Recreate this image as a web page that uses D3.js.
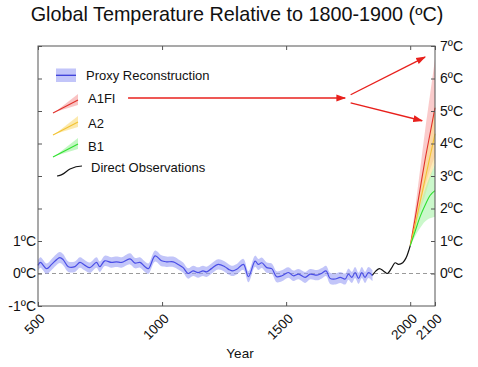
<!DOCTYPE html>
<html><head><meta charset="utf-8">
<script src="https://cdn.jsdelivr.net/npm/d3@7"></script>
<style>body{margin:0;background:#fff}svg{display:block}text{font-family:"Liberation Sans",Arial,sans-serif}</style>
</head><body><svg id="c" width="478" height="367"></svg>
<script>
// ---- data ----
const proxyYears = [500,510,535,555,588,602,622,649,669,689,709,736,749,769,796,816,837,871,891,911,931,945,972,998,1018,1045,1065,1085,1105,1125,1145,1165,1179,1199,1226,1253,1270,1285,1301,1328,1348,1375,1388,1402,1422,1442,1462,1483,1509,1529,1550,1577,1597,1624,1644,1661,1677,1698,1718,1738,1751,1765,1778,1792,1805,1818,1832,1848];
const proxyTemp = [0.25,0.34,0.15,0.28,0.49,0.42,0.21,0.21,0.34,0.25,0.18,0.34,0.21,0.39,0.34,0.36,0.34,0.45,0.32,0.34,0.21,0.15,0.54,0.39,0.36,0.36,0.28,0.18,0.0,0.08,0.03,0.08,0.05,0.15,0.28,0.21,0.12,0.08,0.13,0.28,-0.1,0.38,0.28,0.33,0.18,0.15,-0.1,-0.07,0.03,-0.07,-0.02,-0.12,-0.02,-0.05,0.01,0.08,-0.15,-0.17,-0.12,-0.17,-0.02,-0.12,0.03,-0.15,0.03,-0.12,0.03,-0.07];
const proxyErr = [0.16,0.16,0.16,0.17,0.17,0.17,0.16,0.16,0.16,0.16,0.16,0.16,0.16,0.16,0.16,0.16,0.16,0.17,0.16,0.16,0.16,0.16,0.17,0.17,0.16,0.16,0.16,0.16,0.16,0.16,0.16,0.16,0.16,0.16,0.16,0.16,0.16,0.16,0.16,0.17,0.17,0.17,0.17,0.16,0.16,0.16,0.17,0.17,0.16,0.16,0.16,0.17,0.16,0.16,0.16,0.16,0.17,0.17,0.17,0.17,0.17,0.17,0.17,0.17,0.17,0.17,0.17,0.17];
const obsYears = [1848,1862,1876,1892,1908,1926,1939,1953,1970,1984,1994,2000];
const obsTemp = [-0.05,0.08,0.15,0.08,0.0,0.18,0.33,0.28,0.33,0.49,0.7,0.85];
const projYears = [2000,2020,2040,2060,2080,2100];
const a1fiMid = [0.85,1.7,2.6,3.5,4.3,5.1];
const a1fiLow = [0.85,1.45,2.1,2.7,3.2,3.6];
const a1fiHigh = [0.85,2.0,3.2,4.4,5.5,6.6];
const a2Mid = [0.85,1.5,2.2,2.9,3.6,4.3];
const a2Low = [0.85,1.35,1.9,2.4,2.9,3.4];
const a2High = [0.85,1.7,2.6,3.5,4.3,5.2];
const b1Mid = [0.85,1.3,1.75,2.1,2.4,2.55];
const b1Low = [0.85,1.15,1.4,1.6,1.7,1.75];
const b1High = [0.85,1.5,2.1,2.6,3.0,3.35];
const xTicks = [500,1000,1500,2000,2100];
const yTicks = [-1,0,1,2,3,4,5,6,7];
const leftLabels = [-1,0,1];
// annotation arrows in data units [year, temp]
const arrowMain = [[863,5.4],[1738,5.4]];
const arrowUp = [[1760,5.5],[2060,6.66]];
const arrowDown = [[1760,5.25],[2048,4.7]];

// ---- chart ----
const svg = d3.select("#c");
const x = d3.scaleLinear().domain([500,2100]).range([38,435]);
const y = d3.scaleLinear().domain([-1,7]).range([306,46]);

svg.append("text").attr("x",237).attr("y",20.5).attr("text-anchor","middle")
  .attr("font-size",19.8).attr("fill","#111").text("Global Temperature Relative to 1800-1900 (ºC)");

const defs = svg.append("defs");
defs.append("marker").attr("id","ah").attr("viewBox","0 0 10 10").attr("refX",9).attr("refY",5)
  .attr("markerWidth",7).attr("markerHeight",7).attr("orient","auto")
  .append("path").attr("d","M0,1.5L10,5L0,8.5Z").attr("fill","#e8201c");

// zero line
svg.append("line").attr("x1",x(500)).attr("x2",x(2100)).attr("y1",y(0)).attr("y2",y(0))
  .attr("stroke","#9a9a9a").attr("stroke-dasharray","4,3").attr("stroke-width",1);

// proxy band
const proxy = proxyYears.map((yr,i)=>({yr, t:proxyTemp[i], e:proxyErr[i]}));
svg.append("path").datum(proxy)
  .attr("d", d3.area().curve(d3.curveCatmullRom).x(d=>x(d.yr)).y0(d=>y(d.t-d.e)).y1(d=>y(d.t+d.e)))
  .attr("fill","#9a9ef5").attr("opacity",0.6);
svg.append("path").datum(proxy)
  .attr("d", d3.line().curve(d3.curveCatmullRom).x(d=>x(d.yr)).y(d=>y(d.t)))
  .attr("fill","none").attr("stroke","#4a4ee6").attr("stroke-width",1.2);

// projections
const scen = [
  {mid:a1fiMid, low:a1fiLow, high:a1fiHigh, band:"#f7a9a9", line:"#e0302a"},
  {mid:a2Mid, low:a2Low, high:a2High, band:"#fbe08a", line:"#f2c232"},
  {mid:b1Mid, low:b1Low, high:b1High, band:"#a9f3a9", line:"#2fe02f"}
];
scen.forEach(s=>{
  const d = projYears.map((yr,i)=>({yr, m:s.mid[i], l:s.low[i], h:s.high[i]}));
  svg.append("path").datum(d)
    .attr("d", d3.area().curve(d3.curveMonotoneX).x(p=>x(p.yr)).y0(p=>y(p.l)).y1(p=>y(p.h)))
    .attr("fill",s.band).attr("opacity",0.6);
  s.data = d;
});
scen.forEach(s=>{
  svg.append("path").datum(s.data)
    .attr("d", d3.line().curve(d3.curveMonotoneX).x(p=>x(p.yr)).y(p=>y(p.m)))
    .attr("fill","none").attr("stroke",s.line).attr("stroke-width",1.1);
});

// observations
const obs = obsYears.map((yr,i)=>({yr,t:obsTemp[i]}));
svg.append("path").datum(obs)
  .attr("d", d3.line().curve(d3.curveCatmullRom).x(d=>x(d.yr)).y(d=>y(d.t)))
  .attr("fill","none").attr("stroke","#111").attr("stroke-width",1.2);

// frame
svg.append("rect").attr("x",x(500)).attr("y",y(7)).attr("width",x(2100)-x(500)).attr("height",y(-1)-y(7))
  .attr("fill","none").attr("stroke","#555").attr("stroke-width",1);

function styleAxis(g){
  g.select(".domain").remove();
  g.selectAll(".tick line").attr("stroke","#555");
  g.selectAll(".tick text").attr("fill","#111").attr("font-size",14);
}
// left axis
svg.append("g").attr("transform",`translate(${x(500)},0)`)
  .call(d3.axisLeft(y).tickValues(yTicks).tickSize(-4).tickPadding(2)
    .tickFormat(v=> leftLabels.includes(v) ? v+"ºC" : ""))
  .call(styleAxis);
// right axis
svg.append("g").attr("transform",`translate(${x(2100)},0)`)
  .call(d3.axisRight(y).tickValues(yTicks.filter(v=>v>=0)).tickSize(-4).tickPadding(5)
    .tickFormat(v=> v+"ºC"))
  .call(styleAxis);
// bottom axis
const gx = svg.append("g").attr("transform",`translate(0,${y(-1)})`)
  .call(d3.axisBottom(x).tickValues(xTicks).tickSize(-4).tickFormat(d3.format("d")))
  .call(styleAxis);
gx.selectAll(".tick text").attr("text-anchor","end").attr("y",null).attr("font-size",13.5)
  .attr("transform","translate(4,10) rotate(-45)").attr("dy","0.35em");
// top ticks
svg.append("g").attr("transform",`translate(0,${y(7)})`)
  .call(d3.axisTop(x).tickValues(xTicks).tickSize(-4).tickFormat(""))
  .call(styleAxis);

svg.append("text").attr("x",240).attr("y",358).attr("text-anchor","middle").attr("font-size",13.5)
  .attr("fill","#111").text("Year");

// arrows
[arrowMain, arrowUp, arrowDown].forEach(a=>{
  svg.append("line").attr("x1",x(a[0][0])).attr("y1",y(a[0][1])).attr("x2",x(a[1][0])).attr("y2",y(a[1][1]))
    .attr("stroke","#e8201c").attr("stroke-width",1.4).attr("marker-end","url(#ah)");
});

// legend
const lg = svg.append("g");
lg.append("rect").attr("x",56).attr("y",68.5).attr("width",20).attr("height",13.5).attr("fill","#9a9ef5").attr("opacity",0.6);
lg.append("line").attr("x1",56).attr("x2",76).attr("y1",75.3).attr("y2",75.3).attr("stroke","#3a3ed8").attr("stroke-width",1.3);
const icons = [
  {band:"#f7a9a9", line:"#e0302a", y:113},
  {band:"#fbe08a", line:"#f2c232", y:135},
  {band:"#a9f3a9", line:"#2fe02f", y:157}
];
icons.forEach(ic=>{
  lg.append("path").attr("d",`M55,${ic.y-1}L78,${ic.y-19}L78,${ic.y-8}Z`).attr("fill",ic.band).attr("opacity",0.7);
  lg.append("line").attr("x1",53).attr("y1",ic.y).attr("x2",78).attr("y2",ic.y-13).attr("stroke",ic.line).attr("stroke-width",1.1);
});
lg.append("path").attr("d","M57,176C63,176 66,171 70,169S77,166 82,166").attr("fill","none").attr("stroke","#111").attr("stroke-width",1.2);
const ltxt = [["Proxy Reconstruction",86,80],["A1FI",88,103],["A2",88,127.5],["B1",88,150.5],["Direct Observations",91,172]];
ltxt.forEach(t=>lg.append("text").attr("x",t[1]).attr("y",t[2]).attr("font-size",13).attr("fill","#111").text(t[0]));
</script></body></html>
